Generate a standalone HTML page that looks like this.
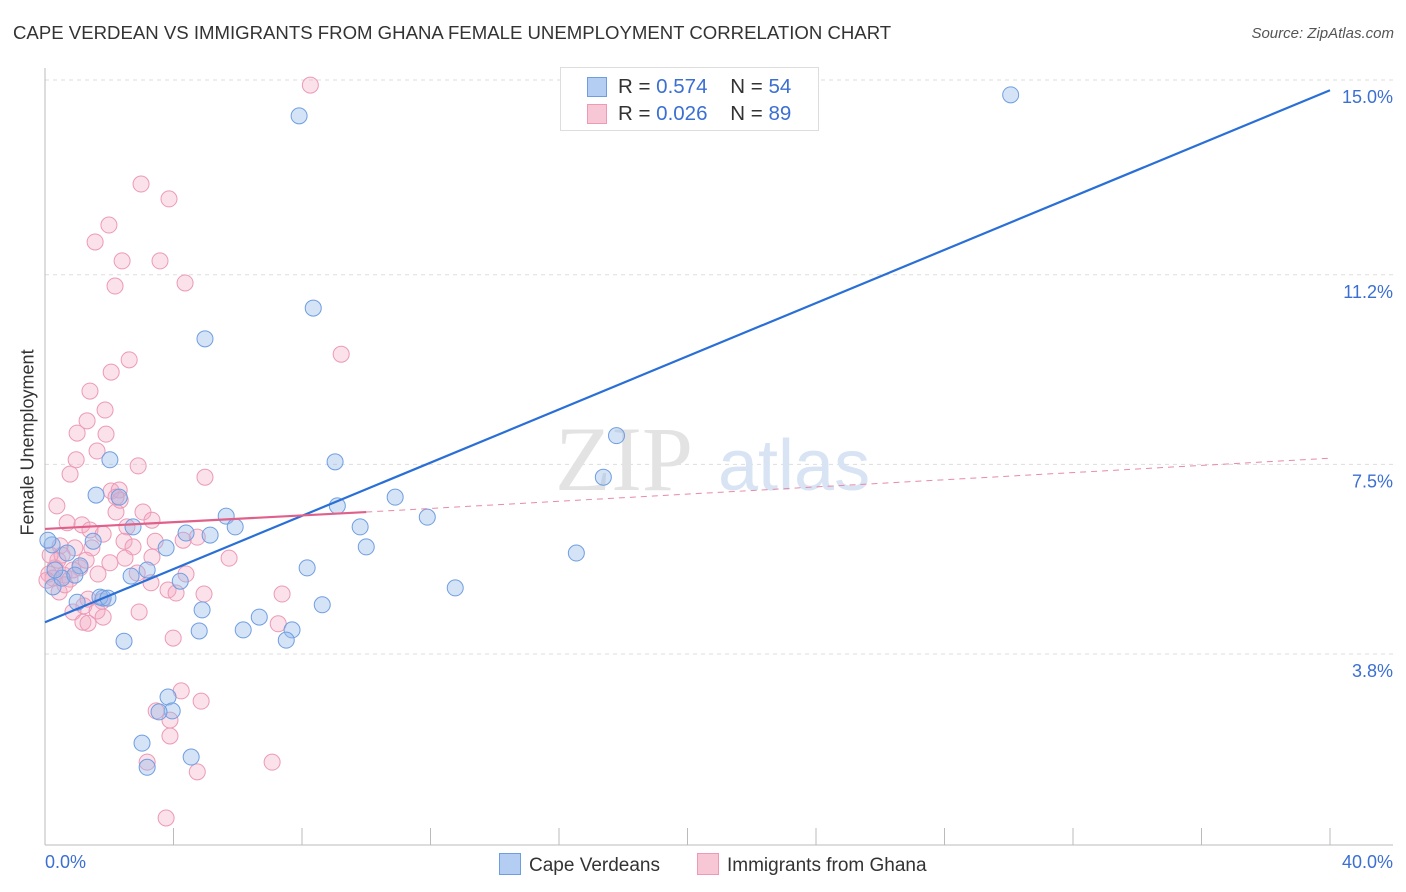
<!DOCTYPE html>
<html><head><meta charset="utf-8">
<style>
html,body{margin:0;padding:0;background:#fff;}
body{width:1406px;height:892px;position:relative;overflow:hidden;font-family:"Liberation Sans",sans-serif;}
.t{position:absolute;white-space:nowrap;}
</style></head>
<body>
<div class="t" style="left:13px;top:22px;font-size:18.6px;color:#333;">CAPE VERDEAN VS IMMIGRANTS FROM GHANA FEMALE UNEMPLOYMENT CORRELATION CHART</div>
<div class="t" style="right:12px;top:25px;font-size:15px;color:#555;font-style:italic;">Source: ZipAtlas.com</div>
<div class="t" style="left:-52px;top:445px;font-size:18px;color:#333;transform:rotate(-90deg);transform-origin:center;width:160px;text-align:center;">Female Unemployment</div>
<svg id="chart" width="1406" height="892" style="position:absolute;left:0;top:0"></svg>
<script>
const xTicks=[0,4,8,12,16,20,24,28,32,36,40];
const yTicks=[15.0,11.2,7.5,3.8];
const yTickLabels=["15.0%","11.2%","7.5%","3.8%"];
const blueX=[30.06,7.91,8.35,4.98,17.79,9.03,2.02,17.38,10.90,1.59,2.31,9.10,5.64,11.90,5.92,9.81,2.74,4.39,16.54,10.00,3.77,1.50,0.69,0.22,8.16,3.18,2.68,4.21,12.77,0.25,1.00,1.81,4.89,8.63,6.67,4.80,6.17,7.69,7.51,2.46,3.83,3.96,3.55,3.02,4.55,3.18,0.09,1.09,0.53,0.31,0.93,1.71,1.96,5.14];
const blueY=[14.71,14.30,10.55,9.95,8.06,7.55,7.59,7.25,6.86,6.90,6.86,6.69,6.49,6.47,6.28,6.28,6.28,6.16,5.77,5.89,5.87,6.00,5.77,5.93,5.48,5.44,5.32,5.22,5.09,5.11,4.81,4.89,4.66,4.76,4.52,4.25,4.27,4.27,4.07,4.05,2.96,2.69,2.67,2.06,1.79,1.59,6.02,5.52,5.28,5.44,5.34,4.91,4.89,6.12];
const pinkX=[8.26,2.99,3.86,1.99,1.56,2.40,3.58,2.18,4.36,9.22,2.62,2.06,1.40,1.87,1.31,1.00,1.90,1.62,0.97,2.90,0.78,4.98,2.06,2.31,0.37,3.05,2.21,3.33,0.69,1.15,2.55,1.40,1.81,4.74,4.30,3.43,2.46,1.46,2.74,0.47,0.93,5.73,2.49,3.33,2.02,0.31,1.09,0.59,1.65,0.12,0.78,2.87,4.39,3.30,3.83,4.08,4.95,0.44,1.34,1.78,7.38,1.21,0.87,1.62,1.81,2.93,1.18,1.34,7.26,3.99,4.24,3.46,4.86,3.89,3.89,3.18,4.74,7.07,3.77,0.25,0.40,0.53,0.16,0.62,0.06,0.87,2.34,2.21,1.28];
const pinkY=[14.90,12.97,12.68,12.17,11.84,11.47,11.47,10.98,11.04,9.65,9.54,9.30,8.93,8.56,8.35,8.11,8.09,7.76,7.59,7.47,7.31,7.25,6.98,7.00,6.69,6.57,6.57,6.41,6.36,6.32,6.28,6.22,6.14,6.08,6.02,6.00,6.00,5.87,5.89,5.91,5.87,5.67,5.67,5.69,5.58,5.48,5.48,5.34,5.36,5.36,5.26,5.38,5.36,5.19,5.05,4.99,4.97,5.01,4.87,4.83,4.97,4.74,4.62,4.64,4.52,4.62,4.42,4.40,4.39,4.11,3.08,2.69,2.88,2.51,2.20,1.69,1.50,1.69,0.60,5.28,5.63,5.73,5.73,5.15,5.24,5.44,6.80,6.86,5.63];
const blueTrend=[4.42,14.8];
const pinkTrendSolid=[0,10,6.24,6.57];
const pinkTrendDash=[10,40,6.57,7.62];

const X=v=>45+v*32.125;
const Y=v=>80+(15-v)*51.25;
const svg=document.getElementById('chart');
const NS='http://www.w3.org/2000/svg';
function mk(tag,attrs){const e=document.createElementNS(NS,tag);for(const k in attrs)e.setAttribute(k,attrs[k]);svg.appendChild(e);return e;}

yTicks.forEach((v,i)=>{
  const g=mk('line',{x1:45,x2:1393,y1:Y(v),y2:Y(v),stroke:'#ddd','stroke-dasharray':'4,4'});
  
  
  const t=mk('text',{x:1393,y:Y(v)+23,'text-anchor':'end','font-size':18,fill:'#3b6fd1','font-family':'Liberation Sans, sans-serif'});
  t.textContent=yTickLabels[i];
  
  
});
const ax=mk('line',{x1:45,x2:1393,y1:845,y2:845,stroke:'#bbb'});


const ay=mk('line',{x1:45,x2:45,y1:68,y2:845,stroke:'#bbb'});


xTicks.forEach(v=>{
  const l=mk('line',{x1:X(v),x2:X(v),y1:828,y2:845,stroke:'#bbb'});
  
  
});
const wm=mk('text',{x:555,y:490,'font-size':92,fill:'#e3e3e3','font-family':'Liberation Serif, serif'});
wm.textContent='ZIP';


const wm2=mk('text',{x:718,y:490,'font-size':72,fill:'#d8e4f4','font-family':'Liberation Sans, sans-serif'});
wm2.textContent='atlas';



pinkX.forEach((v,i)=>{
  const c=mk('circle',{cx:X(v),cy:Y(pinkY[i]),r:8,fill:'rgba(244,170,195,0.35)',stroke:'#ec9ab6','stroke-width':1});
  
  
});
blueX.forEach((v,i)=>{
  const c=mk('circle',{cx:X(v),cy:Y(blueY[i]),r:8,fill:'rgba(150,185,235,0.4)',stroke:'#6f9ee0','stroke-width':1});
  
  
});
const bt=mk('line',{x1:X(0),y1:Y(blueTrend[0]),x2:X(40),y2:Y(blueTrend[1]),stroke:'#2a6fd6','stroke-width':2.2});


const pd=mk('line',{x1:X(pinkTrendDash[0]),y1:Y(pinkTrendDash[2]),x2:X(pinkTrendDash[1]),y2:Y(pinkTrendDash[3]),stroke:'#e88aa8','stroke-width':1,'stroke-dasharray':'6,5'});


const ps=mk('line',{x1:X(pinkTrendSolid[0]),y1:Y(pinkTrendSolid[2]),x2:X(pinkTrendSolid[1]),y2:Y(pinkTrendSolid[3]),stroke:'#e0608a','stroke-width':2.2});


</script>
<div class="t" style="left:45px;top:852px;font-size:18px;color:#3b6fd1;">0.0%</div>
<div class="t" style="right:13px;top:852px;font-size:18px;color:#3b6fd1;">40.0%</div>
<div style="position:absolute;left:560px;top:67px;width:257px;height:62px;border:1px solid #ddd;background:#fff;font-size:20.5px;color:#333;">
  <div style="position:absolute;left:26px;top:9px;width:18px;height:18px;background:#b4cdf2;border:1px solid #6f9ee0;"></div>
  <div class="t" style="left:57px;top:7px;">R = <span style="color:#3b6fd1">0.574</span>&nbsp;&nbsp;&nbsp; N = <span style="color:#3b6fd1">54</span></div>
  <div style="position:absolute;left:26px;top:36px;width:18px;height:18px;background:#f8c7d6;border:1px solid #ec9ab6;"></div>
  <div class="t" style="left:57px;top:34px;">R = <span style="color:#3b6fd1">0.026</span>&nbsp;&nbsp;&nbsp; N = <span style="color:#3b6fd1">89</span></div>
</div>
<div style="position:absolute;left:499px;top:853px;font-size:19px;color:#333;">
  <span style="display:inline-block;width:20px;height:20px;background:#b4cdf2;border:1px solid #6f9ee0;vertical-align:-4px;margin-right:8px;"></span>Cape Verdeans</div>
<div style="position:absolute;left:697px;top:853px;font-size:19px;color:#333;">
  <span style="display:inline-block;width:20px;height:20px;background:#f8c7d6;border:1px solid #ec9ab6;vertical-align:-4px;margin-right:8px;"></span>Immigrants from Ghana</div>
</body></html>
